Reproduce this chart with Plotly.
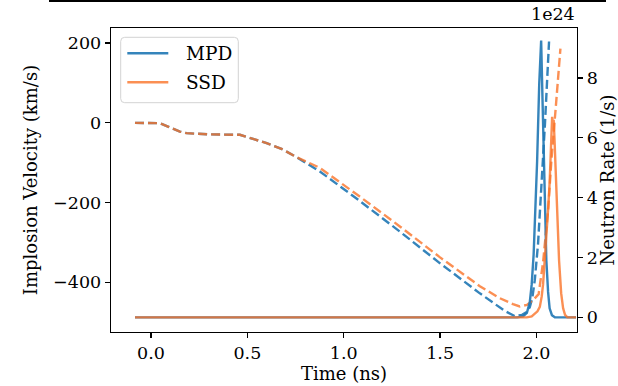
import plotly.graph_objects as go

# ---------------- data ----------------
SERIES = ["MPD", "SSD"]
RATE_SCALE_LABEL = "1e24"   # neutron rate values below are in units of 1e24 1/s

# Implosion velocity (km/s) -- dashed, left axis
t_vel_mpd = [-0.083, 0.010, 0.047, 0.10, 0.15, 0.185, 0.30, 0.461, 0.53, 0.60, 0.68,
             0.755, 0.876, 1.083, 1.291, 1.498, 1.706, 1.835, 1.887, 1.925, 1.949,
             1.965, 1.978, 1.991, 2.008, 2.025, 2.043, 2.065]
v_mpd = [0, 0, -1, -12, -22, -26, -29, -30, -40, -51, -66,
         -86, -122, -196, -273, -352, -428, -472, -485, -482, -475,
         -463, -440, -395, -303, -162, -10, 204]

t_vel_ssd = [-0.083, 0.010, 0.047, 0.10, 0.15, 0.185, 0.30, 0.461, 0.53, 0.60, 0.68,
             0.755, 0.876, 1.083, 1.291, 1.498, 1.706, 1.809, 1.878, 1.913,
             1.95, 1.982, 2.011, 2.034, 2.06, 2.077, 2.10, 2.124]
v_ssd = [0, 0, -1, -12, -22, -26, -29, -30, -40, -51, -66,
         -86, -113, -185, -260, -337, -410, -440, -455, -461,
         -457, -445, -430, -350, -220, -95, 40, 186]

# Neutron rate (1e24 1/s) -- solid, right axis
t_rate_mpd = [-0.083, 1.90, 1.93, 1.95, 1.965, 1.975, 1.985, 1.995, 2.003, 2.014, 2.024,
              2.031, 2.038, 2.045, 2.051, 2.06, 2.068, 2.08, 2.095, 2.205]
r_mpd = [0, 0, 0.03, 0.15, 0.5, 1.1, 2.1, 3.6, 5.2, 7.8, 9.25,
         7.3, 5.2, 3.2, 1.9, 0.85, 0.3, 0.07, 0, 0]

t_rate_ssd = [-0.083, 1.95, 1.975, 1.99, 2.005, 2.017, 2.027, 2.034, 2.043, 2.052, 2.06,
              2.068, 2.074, 2.078, 2.081, 2.085, 2.089, 2.093, 2.097, 2.105, 2.117,
              2.128, 2.138, 2.148, 2.16, 2.205]
r_ssd = [0, 0, 0.03, 0.1, 0.2, 0.35, 0.7, 1.1, 1.9, 2.8, 3.6,
         4.5, 5.3, 6.3, 6.7, 6.5, 6.6, 6.0, 5.2, 3.6, 1.9,
         0.8, 0.3, 0.08, 0, 0]

x_ticks = [0.0, 0.5, 1.0, 1.5, 2.0]
x_ticktext = ["0.0", "0.5", "1.0", "1.5", "2.0"]
y1_ticks = [-400, -200, 0, 200]
y1_ticktext = ["\u2212400", "\u2212200", "0", "200"]
y2_ticks = [0, 2, 4, 6, 8]
y2_ticktext = ["0", "2", "4", "6", "8"]

# ---------------- style ----------------
BLUE = "rgba(31,119,180,0.9)"
ORANGE = "rgba(250,115,40,0.8)"
FONT = "DejaVu Serif"
TICK_SIZE = 17.5
LABEL_SIZE = 18
LEGEND_SIZE = 18.5
LW = 2.4
DASH = "9px,4px"

W, H = 618, 386
ML, MR, MT, MB = 111, 41, 28, 54
PW, PH = W - ML - MR, H - MT - MB


def px(x):
    return (x - ML) / PW


def py(y):
    return (H - MB - y) / PH


fig = go.Figure()
fig.add_trace(go.Scatter(x=t_vel_mpd, y=v_mpd, mode="lines", name=SERIES[0] + " velocity",
                         line=dict(color=BLUE, width=LW, dash=DASH), showlegend=False, yaxis="y"))
fig.add_trace(go.Scatter(x=t_vel_ssd, y=v_ssd, mode="lines", name=SERIES[1] + " velocity",
                         line=dict(color=ORANGE, width=LW, dash=DASH), showlegend=False, yaxis="y"))
fig.add_trace(go.Scatter(x=t_rate_mpd, y=r_mpd, mode="lines", name=SERIES[0],
                         line=dict(color=BLUE, width=LW), showlegend=False, yaxis="y2"))
fig.add_trace(go.Scatter(x=t_rate_ssd, y=r_ssd, mode="lines", name=SERIES[1],
                         line=dict(color=ORANGE, width=LW), showlegend=False, yaxis="y2"))

axis_common = dict(showgrid=False, zeroline=False, showline=True, linecolor="black",
                   linewidth=1.3, ticks="outside", ticklen=5, tickwidth=1.3, automargin=False,
                   tickcolor="black", tickfont=dict(family=FONT, size=TICK_SIZE, color="black"))

# legend box (rounded) + entries
lx0, lx1, ly0, ly1 = px(120.7), px(238.3), py(37.3), py(102.7)
rx, ry = 4 / PW, 4 / PH
legend_path = (f"M{lx0+rx},{ly0} L{lx1-rx},{ly0} Q{lx1},{ly0} {lx1},{ly0-ry} "
               f"L{lx1},{ly1+ry} Q{lx1},{ly1} {lx1-rx},{ly1} L{lx0+rx},{ly1} "
               f"Q{lx0},{ly1} {lx0},{ly1+ry} L{lx0},{ly0-ry} Q{lx0},{ly0} {lx0+rx},{ly0} Z")
shapes = [
    dict(type="path", xref="paper", yref="paper", path=legend_path,
         fillcolor="rgba(255,255,255,0.8)", line=dict(color="#d3d3d3", width=1), layer="above"),
    dict(type="line", xref="paper", yref="paper", x0=px(49), x1=px(606),
         y0=py(1), y1=py(1), line=dict(color="black", width=2)),
]
annotations = [dict(text=RATE_SCALE_LABEL, xref="paper", yref="paper", x=1.0, y=1.0,
                    xanchor="right", yanchor="bottom", yshift=2, showarrow=False,
                    font=dict(family=FONT, size=TICK_SIZE, color="black"))]
for name, color, yc in [(SERIES[0], BLUE, 53.3), (SERIES[1], ORANGE, 82.3)]:
    shapes.append(dict(type="line", xref="paper", yref="paper", x0=px(127.3), x1=px(168.3),
                       y0=py(yc), y1=py(yc), line=dict(color=color, width=LW), layer="above"))
    annotations.append(dict(text=name, xref="paper", yref="paper", x=px(184), y=py(yc),
                            xanchor="left", yanchor="middle", showarrow=False,
                            font=dict(family=FONT, size=LEGEND_SIZE, color="black")))

fig.update_layout(
    width=W, height=H,
    margin=dict(l=ML, r=MR, t=MT, b=MB),
    paper_bgcolor="white", plot_bgcolor="white",
    font=dict(family=FONT, color="black"),
    showlegend=False,
    hovermode=False,
    xaxis=dict(range=[-0.2075, 2.21], tickvals=x_ticks, ticktext=x_ticktext, mirror=True,
               title=dict(text="Time (ns)", font=dict(family=FONT, size=LABEL_SIZE), standoff=4),
               **axis_common),
    yaxis=dict(range=[-525, 238], tickvals=y1_ticks, ticktext=y1_ticktext,
               title=dict(text="Implosion Velocity (km/s)", font=dict(family=FONT, size=LABEL_SIZE), standoff=10),
               **axis_common),
    yaxis2=dict(range=[-0.49, 9.67], tickvals=y2_ticks, ticktext=y2_ticktext,
                overlaying="y", side="right",
                title=dict(text="Neutron Rate (1/s)", font=dict(family=FONT, size=LABEL_SIZE), standoff=2),
                **axis_common),
    annotations=annotations,
    shapes=shapes,
)

fig.write_html("out.html", config={"displayModeBar": False, "staticPlot": True},
               post_script="document.body.style.margin='0';document.body.style.padding='0';")
